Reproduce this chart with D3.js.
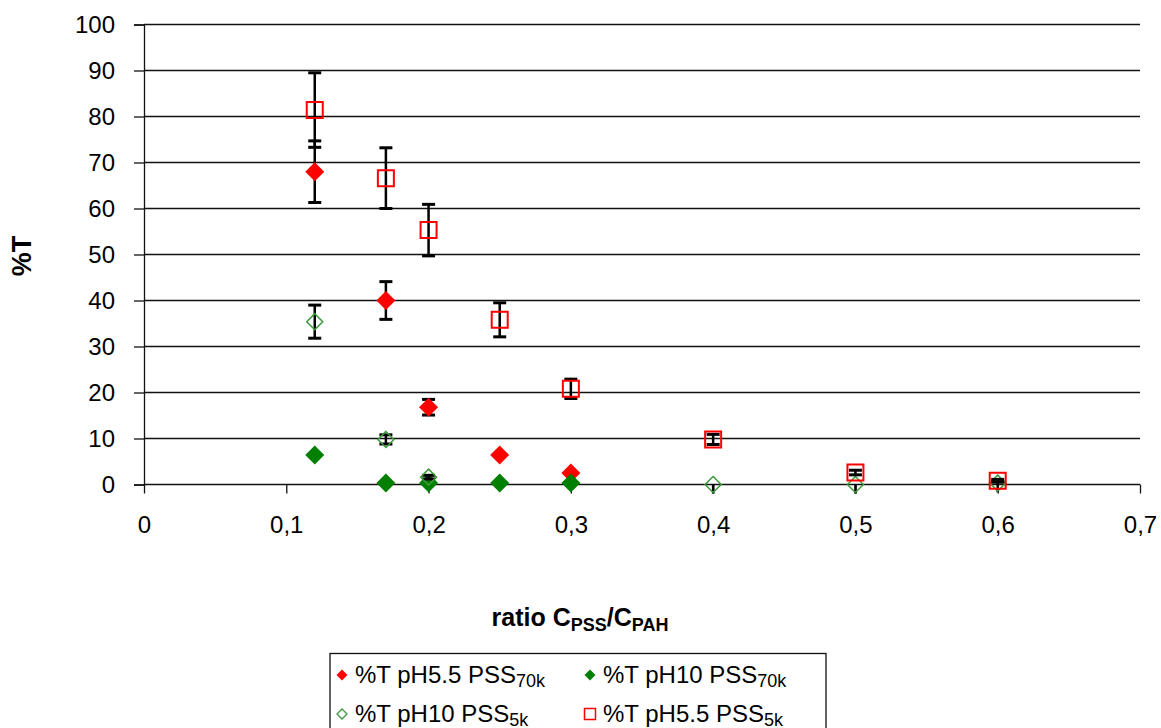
<!DOCTYPE html>
<html><head><meta charset="utf-8">
<script src="https://cdn.jsdelivr.net/npm/d3@7"></script>
<style>body{margin:0;background:#fff}svg{display:block}text{font-family:"Liberation Sans",Arial,sans-serif}</style>
</head><body>
<svg id="c" width="1161" height="728"></svg>
<script>
// ---- data ----
const xTicks = [0, 0.1, 0.2, 0.3, 0.4, 0.5, 0.6, 0.7];
const xTickLabels = ["0", "0,1", "0,2", "0,3", "0,4", "0,5", "0,6", "0,7"];
const yTicks = [0, 10, 20, 30, 40, 50, 60, 70, 80, 90, 100];

const s1Name = ["%T pH5.5 PSS", "70k"];
const s1X = [0.12, 0.17, 0.2, 0.25, 0.3];
const s1Y = [68, 40, 16.8, 6.4, 2.5];
const s1ErrUp = [6.7, 4.1, 1.7, 0, 0];
const s1ErrDn = [6.7, 4.1, 1.7, 0, 0];

const s2Name = ["%T pH10 PSS", "70k"];
const s2X = [0.12, 0.17, 0.2, 0.25, 0.3];
const s2Y = [6.4, 0.3, 0.3, 0.3, 0.3];
const s2ErrUp = [0, 0, 0, 0, 0];
const s2ErrDn = [0, 0, 0, 0, 0];

const s3Name = ["%T pH10 PSS", "5k"];
const s3X = [0.12, 0.17, 0.2, 0.4, 0.5, 0.6];
const s3Y = [35.4, 9.8, 1.6, 0, 0, 0.3];
const s3ErrUp = [3.6, 1, 0.4, 0, 0, 0];
const s3ErrDn = [3.6, 1, 0.4, 2, 2, 2];

const s4Name = ["%T pH5.5 PSS", "5k"];
const s4X = [0.12, 0.17, 0.2, 0.25, 0.3, 0.4, 0.5, 0.6];
const s4Y = [81.4, 66.6, 55.3, 35.8, 20.8, 9.8, 2.6, 0.8];
const s4ErrUp = [8.1, 6.6, 5.6, 3.7, 2.1, 1.1, 0.5, 0.3];
const s4ErrDn = [8.1, 6.6, 5.6, 3.7, 2.1, 1.1, 0.5, 0.3];

// ---- layout ----
const svg = d3.select("#c");
const L = 144, R = 1140, T = 24.5, B = 484.5;
const x = d3.scaleLinear().domain([0, 0.7]).range([L, R]);
const y = d3.scaleLinear().domain([0, 100]).range([B, T]);
const FF = '"Liberation Sans",Arial,sans-serif';

// gridlines
svg.append("g").selectAll("line").data(yTicks.filter(d => d > 0)).join("line")
  .attr("x1", L).attr("x2", R).attr("y1", d => y(d)).attr("y2", d => y(d))
  .attr("stroke", "#111").attr("stroke-width", 1.3);

// y axis
const yAx = svg.append("g").attr("transform", `translate(${L},0)`)
  .call(d3.axisLeft(y).tickValues(yTicks).tickSize(10).tickPadding(19).tickFormat(d3.format("d")));
yAx.select(".domain").attr("stroke", "#111").attr("stroke-width", 1.3);
yAx.selectAll(".tick line").attr("stroke", "#111").attr("stroke-width", 1.3);
yAx.selectAll("text").attr("font-size", 24).attr("fill", "#000").style("font-family", FF);

// x axis
const xAx = svg.append("g").attr("transform", `translate(0,${B})`)
  .call(d3.axisBottom(x).tickValues(xTicks).tickSize(9).tickPadding(22)
    .tickFormat((d, i) => xTickLabels[i]));
xAx.select(".domain").attr("stroke", "#111").attr("stroke-width", 1.3).attr("d", `M${L},0H${R}`);
xAx.selectAll(".tick line").attr("stroke", "#111").attr("stroke-width", 1.3);
xAx.selectAll("text").attr("font-size", 24).attr("fill", "#000").style("font-family", FF);

// axis titles
svg.append("text").attr("transform", "translate(31,256) rotate(-90)")
  .attr("text-anchor", "middle").attr("font-size", 27).attr("font-weight", "bold").text("%T");

const xt = svg.append("text").attr("x", 580).attr("y", 626).attr("text-anchor", "middle")
  .attr("font-size", 25).attr("font-weight", "bold");
xt.append("tspan").text("ratio C");
xt.append("tspan").attr("font-size", 18).attr("dy", 5).text("PSS");
xt.append("tspan").attr("dy", -5).text("/C");
xt.append("tspan").attr("font-size", 18).attr("dy", 5).text("PAH");

// ---- series drawing ----
const diamond = (s) => `M0,${-s}L${s},0L0,${s}L${-s},0Z`;
const series = [
  {X: s1X, Y: s1Y, up: s1ErrUp, dn: s1ErrDn, shape: "diamond", size: 9.5, fill: "#ff0000", stroke: "none", sw: 0},
  {X: s2X, Y: s2Y, up: s2ErrUp, dn: s2ErrDn, shape: "diamond", size: 9.5, fill: "#007f00", stroke: "none", sw: 0},
  {X: s3X, Y: s3Y, up: s3ErrUp, dn: s3ErrDn, shape: "diamond", size: 8, fill: "none", stroke: "#3c9a3c", sw: 1.5},
  {X: s4X, Y: s4Y, up: s4ErrUp, dn: s4ErrDn, shape: "square", size: 8, fill: "none", stroke: "#ff0000", sw: 2}
];

series.forEach(s => {
  const pts = s.X.map((xv, i) => ({x: xv, y: s.Y[i], up: s.up[i], dn: s.dn[i]}));
  const g = svg.append("g");
  const eb = pts.filter(p => p.up > 0 || p.dn > 0);
  const eg = g.selectAll("g.eb").data(eb).join("g").attr("class", "eb");
  eg.append("line").attr("x1", p => x(p.x)).attr("x2", p => x(p.x))
    .attr("y1", p => y(p.y + p.up)).attr("y2", p => y(p.y - p.dn))
    .attr("stroke", "#000").attr("stroke-width", 2.5);
  eg.filter(p => p.up > 0).append("line")
    .attr("x1", p => x(p.x) - 6.5).attr("x2", p => x(p.x) + 6.5)
    .attr("y1", p => y(p.y + p.up)).attr("y2", p => y(p.y + p.up))
    .attr("stroke", "#000").attr("stroke-width", 3);
  eg.filter(p => p.dn > 0 && p.y - p.dn >= 0).append("line")
    .attr("x1", p => x(p.x) - 6.5).attr("x2", p => x(p.x) + 6.5)
    .attr("y1", p => y(p.y - p.dn)).attr("y2", p => y(p.y - p.dn))
    .attr("stroke", "#000").attr("stroke-width", 3);
  g.selectAll("path.m").data(pts).join("path").attr("class", "m")
    .attr("transform", p => `translate(${x(p.x)},${y(p.y)})`)
    .attr("d", s.shape === "diamond" ? diamond(s.size) :
      `M${-s.size},${-s.size}H${s.size}V${s.size}H${-s.size}Z`)
    .attr("fill", s.fill).attr("stroke", s.stroke).attr("stroke-width", s.sw);
});

// ---- legend ----
svg.append("rect").attr("x", 330).attr("y", 653.5).attr("width", 496).attr("height", 90)
  .attr("fill", "#fff").attr("stroke", "#111").attr("stroke-width", 1.3);
const legItems = [
  {name: s1Name, lx: 342, ly: 675, shape: "diamond", size: 5.5, fill: "#ff0000", stroke: "none", sw: 0},
  {name: s2Name, lx: 590, ly: 675, shape: "diamond", size: 5.5, fill: "#007f00", stroke: "none", sw: 0},
  {name: s3Name, lx: 342, ly: 714, shape: "diamond", size: 5, fill: "none", stroke: "#3c9a3c", sw: 1.3},
  {name: s4Name, lx: 590, ly: 714, shape: "square", size: 5.5, fill: "none", stroke: "#ff0000", sw: 1.5}
];
legItems.forEach(it => {
  svg.append("path").attr("transform", `translate(${it.lx},${it.ly})`)
    .attr("d", it.shape === "diamond" ? diamond(it.size) :
      `M${-it.size},${-it.size}H${it.size}V${it.size}H${-it.size}Z`)
    .attr("fill", it.fill).attr("stroke", it.stroke).attr("stroke-width", it.sw);
  const t = svg.append("text").attr("x", it.lx + 13).attr("y", it.ly + 8).attr("font-size", 24);
  t.append("tspan").text(it.name[0]);
  t.append("tspan").attr("font-size", 18).attr("dy", 4).text(it.name[1]);
});
</script>
</body></html>
